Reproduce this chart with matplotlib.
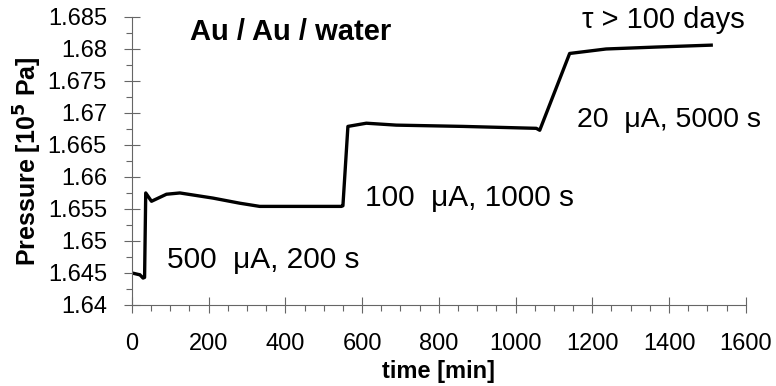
import matplotlib
matplotlib.use("Agg")
import matplotlib.pyplot as plt
from matplotlib.ticker import MultipleLocator, FuncFormatter

# Data
time_min = [0, 21, 29, 33, 36, 51, 90, 125, 211, 281, 333, 450, 533, 546, 550,
             563, 611, 689, 863, 1054, 1063, 1141, 1236, 1366, 1510]
pressure = [1.6450, 1.6447, 1.6442, 1.6443, 1.6575, 1.6562, 1.6573, 1.6575, 1.6567,
            1.6559, 1.6554, 1.6554, 1.6554, 1.6554, 1.6555,
            1.6679, 1.6684, 1.6681, 1.6679, 1.6676, 1.6673, 1.6793, 1.6800, 1.6803, 1.6806]

x_ticks = [0, 200, 400, 600, 800, 1000, 1200, 1400, 1600]
y_ticks = [1.64, 1.645, 1.65, 1.655, 1.66, 1.665, 1.67, 1.675, 1.68, 1.685]

title_text = "Au / Au / water"
annotations = ["500  \u03bcA, 200 s", "100  \u03bcA, 1000 s", "20  \u03bcA, 5000 s", "\u03c4 > 100 days"]

plt.rcParams['font.family'] = ['Liberation Sans', 'DejaVu Sans']

fig = plt.figure(figsize=(7.76, 3.86), dpi=100)
ax = fig.add_axes([0.170, 0.210, 0.791, 0.746])

ax.plot(time_min, pressure, color='black', lw=2.4, solid_joinstyle='round')

ax.set_xlim(0, 1600)
ax.set_ylim(1.64, 1.685)
ax.set_xticks(x_ticks)
ax.set_yticks(y_ticks)
ax.xaxis.set_minor_locator(MultipleLocator(50))
ax.yaxis.set_minor_locator(MultipleLocator(0.0025))
ax.yaxis.set_major_formatter(FuncFormatter(lambda v, p: ('%g' % round(v, 4))))

for s in ['top', 'right']:
    ax.spines[s].set_visible(False)
for s in ['left', 'bottom']:
    ax.spines[s].set_color('#666666')
    ax.spines[s].set_linewidth(0.8)

ax.tick_params(axis='both', which='major', direction='inout', length=12, width=0.8,
               color='#666666', labelsize=17)
ax.tick_params(axis='both', which='minor', direction='out', length=4, width=0.8,
               color='#666666')
ax.tick_params(axis='x', pad=14)
ax.tick_params(axis='y', pad=12)

ax.set_xlabel("time [min]", fontsize=17, fontweight='bold', labelpad=4)
ax.set_ylabel("Pressure [10$^{\\mathbf{5}}$ Pa]", fontsize=18, fontweight='bold', labelpad=3)

ax.text(151, 1.6827, title_text, fontsize=21, fontweight='bold', va='center', ha='left')
ax.text(91, 1.6470, annotations[0], fontsize=21.5, va='center', ha='left')
ax.text(607, 1.6567, annotations[1], fontsize=21.5, va='center', ha='left')
ax.text(1159, 1.6689, annotations[2], fontsize=20.5, va='center', ha='left')
ax.text(1174, 1.6845, annotations[3], fontsize=21, va='center', ha='left')

fig.savefig("out.png", dpi=100)
